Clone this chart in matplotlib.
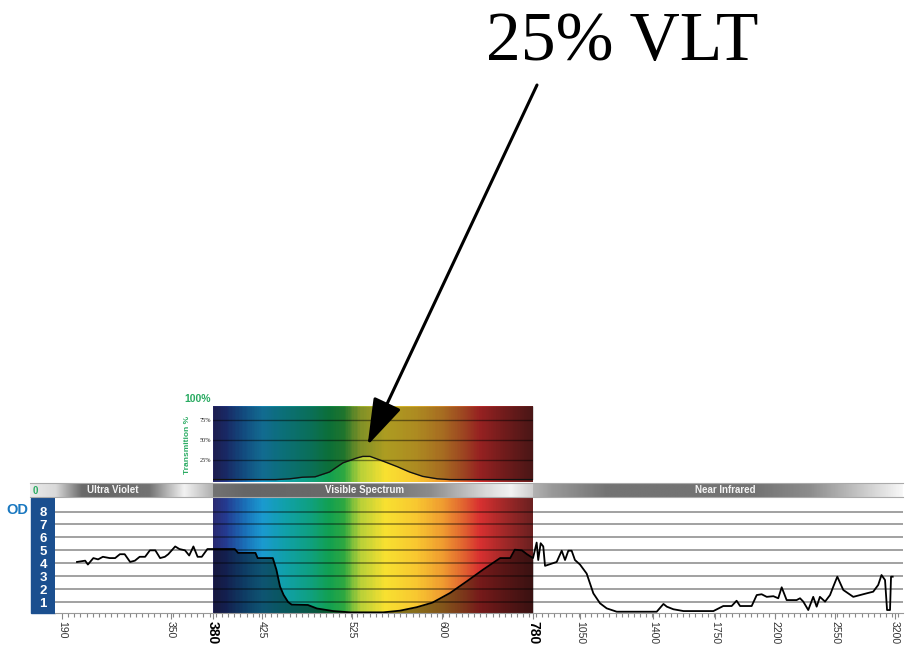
import numpy as np
import matplotlib.pyplot as plt
from matplotlib.colors import LinearSegmentedColormap, Normalize
from matplotlib.patches import Rectangle

plt.rcParams['font.family'] = ['Liberation Sans', 'DejaVu Sans']

W, H = 913, 646

# printed wavelength ticks and where they sit along the chart (px)
tick_nm = [190, 350, 380, 425, 525, 600, 780, 1050, 1400, 1750, 2200, 2550, 3200]
tick_px = [62, 171, 213, 262, 352, 442, 533, 580, 653, 715, 775, 835, 895]
od_ticks = [1, 2, 3, 4, 5, 6, 7, 8]

# optical density trace (nm, OD)
uv_nm = [212, 224, 228, 236, 243, 250, 260, 268, 275, 282, 290, 297, 304, 312,
         319, 327, 334, 341, 346, 353, 356, 360, 363, 366, 369, 372, 376]
uv_od = [4.1, 4.2, 3.9, 4.4, 4.3, 4.5, 4.4, 4.4, 4.7, 4.7, 4.1, 4.2, 4.5, 4.5,
         5.0, 5.0, 4.4, 4.5, 4.7, 5.3, 5.1, 5.0, 4.6, 5.3, 4.5, 4.5, 5.1]
vis_nm = [380, 400, 403, 419, 421, 437, 441, 445, 449, 454, 458, 476, 486, 504,
          523, 551, 565, 579, 592, 616, 649, 681, 715, 735, 744, 758, 768, 780]
vis_od = [5.1, 5.1, 4.8, 4.8, 4.4, 4.4, 3.5, 2.2, 1.55, 1.0, 0.8, 0.77, 0.5, 0.3,
          0.2, 0.2, 0.33, 0.6, 0.95, 1.7, 2.6, 3.5, 4.4, 4.4, 5.05, 5.0, 4.7, 4.4]
nir_nm = [801, 810, 824, 839, 849, 916, 945, 964, 983, 1002, 1021, 1050, 1082,
          1114, 1146, 1178, 1226, 1421, 1459, 1478, 1515, 1572, 1741, 1812, 1875,
          1912, 1938, 2025, 2063, 2100, 2138, 2188, 2219, 2239, 2268, 2326, 2346,
          2365, 2394, 2423, 2443, 2462, 2492, 2521, 2540, 2575, 2640, 2748, 2892,
          2964, 3018, 3054, 3092, 3114, 3146, 3157, 3175]
nir_od = [5.6, 4.25, 5.55, 5.3, 3.8, 4.1, 4.97, 4.25, 4.97, 4.97, 4.25, 3.9, 3.2,
          1.67, 0.9, 0.51, 0.25, 0.25, 0.85, 0.64, 0.44, 0.3, 0.3, 0.69, 0.69,
          1.1, 0.69, 0.69, 1.54, 1.6, 1.4, 1.45, 1.29, 2.14, 1.15, 1.15, 1.29,
          1.03, 0.38, 1.4, 0.64, 1.4, 1.03, 1.54, 2.19, 2.96, 1.93, 1.4, 1.67,
          1.8, 2.32, 3.09, 2.7, 0.38, 0.38, 2.96, 2.96]

# visible transmission (nm, %)
t_nm = [380, 440, 456, 470, 484, 500, 515, 529, 534, 540, 551, 563, 573, 584, 596, 616, 700, 780]
t_pct = [0, 0, 1, 3, 3.5, 9.5, 21, 27, 29, 29, 23, 16, 9.5, 4, 1, 0, 0, 0]

spectrum = [(380, '#2a2a70'), (391, '#243a90'), (409, '#1a70b8'), (425, '#1a9ad0'),
            (451, '#10a0a8'), (478, '#0fa080'), (500, '#12a050'), (517, '#30a840'),
            (532, '#b8d038'), (553, '#f8e030'), (578, '#f8c830'), (598, '#f0a030'),
            (645, '#e06030'), (675, '#d83030'), (725, '#a02828'), (780, '#6a2020')]
spec_cmap = LinearSegmentedColormap.from_list(
    'spec', [((w - 380) / 400, c) for w, c in spectrum])
spec_norm = Normalize(380, 780)

# piecewise axis scale of the printout
knot_nm = [100] + tick_nm + [3400]
knot_px = [62 - 90 / 1.468] + tick_px + [895 + 200 / 10.8]


def fwd(x):
    return np.interp(x, knot_nm, knot_px)


def inv(p):
    return np.interp(p, knot_px, knot_nm)


def px_axes(x0, y0, x1, y1):
    return fig.add_axes([x0 / W, 1 - y1 / H, (x1 - x0) / W, (y1 - y0) / H])


def spectrum_mesh(ax, y0, y1):
    edges = np.linspace(380, 780, 321)
    mids = (edges[:-1] + edges[1:]) / 2
    ax.pcolormesh(edges, [y0, y1], mids[None, :], cmap=spec_cmap, norm=spec_norm,
                  shading='flat', zorder=0)


fig = plt.figure(figsize=(W / 100, H / 100), dpi=100)

# ---- OD panel
ax = px_axes(55, 498, 903, 613)
ax.set_xscale('function', functions=(fwd, inv))
ax.set_xlim(inv(55), inv(903))
ax.set_ylim(0.15, 9.05)
spectrum_mesh(ax, 0.15, 9.05)
ax.fill_between(vis_nm, 0.15, vis_od, color='black', alpha=0.45, lw=0, zorder=0.5)
for v in od_ticks:
    ax.axhline(v, color='black', alpha=0.4, lw=1.3, zorder=1)
all_nm = uv_nm + vis_nm + nir_nm
all_od = uv_od + vis_od + nir_od
ax.plot(all_nm, all_od, color='black', lw=1.3, zorder=3)

ax.set_xticks(tick_nm)
ax.set_xticklabels([str(t) for t in tick_nm], rotation=270, fontsize=7.5,
                   color='#333333', va='top', ha='center')
for lbl in ax.get_xticklabels():
    if lbl.get_text() in ('380', '780'):
        lbl.set_fontweight('bold')
        lbl.set_fontsize(10)
        lbl.set_color('black')
ax.set_xticks(inv(np.arange(62, 903, 6.15)), minor=True)
ax.tick_params(axis='x', which='both', color='#888888', width=0.8, pad=2)
ax.tick_params(axis='x', which='major', length=4)
ax.tick_params(axis='x', which='minor', length=3)
ax.tick_params(axis='x', which='minor', labelbottom=False)

ax.set_yticks(od_ticks)
ax.set_yticklabels([str(v) for v in od_ticks], color='white', fontweight='bold', fontsize=9.5)
for lbl in ax.get_yticklabels():
    lbl.set_ha('center')
ax.tick_params(axis='y', length=0, pad=8.6)
for s in ('top', 'left', 'right'):
    ax.spines[s].set_visible(False)
ax.spines['bottom'].set_color('#999999')

fig.add_artist(Rectangle((31 / W, 1 - 613 / H), 24 / W, 115 / H,
                         transform=fig.transFigure, color='#1b4f8f', zorder=0))
fig.text(17 / W, 1 - 510 / H, 'OD', color='#1a78c0', fontweight='bold',
         fontsize=10.5, ha='center', va='center')

# ---- transmission panel
ax_t = px_axes(213, 406, 533, 482)
ax_t.set_xscale('function', functions=(fwd, inv))
ax_t.set_xlim(380, 780)
ax_t.set_ylim(-3, 92)
spectrum_mesh(ax_t, -3, 92)
ax_t.fill_between(t_nm, t_pct, 92, color='black', alpha=0.3, lw=0, zorder=0.5)
for v in (25, 50, 75):
    ax_t.axhline(v, color='black', alpha=0.45, lw=1, zorder=1)
ax_t.plot(t_nm, t_pct, color='#111111', lw=1, zorder=3)
ax_t.set_xticks([])
ax_t.set_yticks([25, 50, 75])
ax_t.set_yticklabels(['25%', '50%', '75%'], fontsize=4.5, color='#222222',
                     family=['Liberation Serif', 'DejaVu Serif'])
ax_t.tick_params(axis='y', length=0, pad=1.5)
for s in ax_t.spines.values():
    s.set_visible(False)

green = '#2aab62'
fig.text(198 / W, 1 - 399 / H, '100%', color=green, fontweight='bold',
         fontsize=7.5, ha='center', va='center')
fig.text(187 / W, 1 - 445 / H, 'Transmition %', color=green, fontweight='bold',
         fontsize=6, rotation=90, ha='center', va='center')

# ---- band bar
ax_b = px_axes(30, 483, 903, 497)
ax_b.set_xlim(30, 903)
ax_b.set_ylim(0, 1)
x_vis0, x_vis1 = float(fwd(380)), float(fwd(780))
bands = [
    (30, x_vis0, 'Ultra Violet', [0, 0.14, 0.28, 0.36, 0.65, 0.84, 1.0],
     [0.92, 0.85, 0.42, 0.4, 0.45, 0.95, 0.68]),
    (x_vis0, x_vis1, 'Visible Spectrum', [0, 0.1, 0.5, 0.68, 0.85, 0.93, 1.0],
     [0.45, 0.4, 0.42, 0.55, 0.85, 0.95, 0.8]),
    (x_vis1, 903, 'Near Infrared', [0, 0.05, 0.2, 0.6, 0.75, 0.9, 1.0],
     [0.7, 0.6, 0.45, 0.45, 0.55, 0.8, 0.97]),
]
label_x = [113, 365, 725]
for (x0, x1, name, fs, gs), lx in zip(bands, label_x):
    grad = np.interp(np.linspace(0, 1, 300), fs, gs)[None, :]
    ax_b.imshow(grad, extent=[x0, x1, 0, 1], aspect='auto', cmap='gray',
                vmin=0, vmax=1, interpolation='bilinear')
    ax_b.text(lx, 0.5, name, color='#f4f4f4', fontweight='bold', fontsize=7,
              ha='center', va='center')
ax_b.text(35, 0.45, '0', color=green, fontweight='bold', fontsize=7,
          ha='center', va='center')
ax_b.set_xticks([])
ax_b.set_yticks([])
for s in ('left', 'right'):
    ax_b.spines[s].set_visible(False)
for s in ('top', 'bottom'):
    ax_b.spines[s].set_color('#aaaaaa')
    ax_b.spines[s].set_linewidth(0.8)

# ---- callout
fig.text(622 / W, 1 - 60 / H, '25% VLT', fontsize=50, ha='center', va='baseline',
         family=['Liberation Serif', 'DejaVu Serif'])
ax_t.annotate('', xy=(538, 43), xycoords='data',
              xytext=(537 / W, 1 - 85 / H), textcoords='figure fraction',
              arrowprops=dict(arrowstyle='-|>,head_length=1.7,head_width=0.55',
                              color='black', lw=2.2, mutation_scale=17,
                              shrinkA=0, shrinkB=0))

fig.savefig('out.png', dpi=100)
